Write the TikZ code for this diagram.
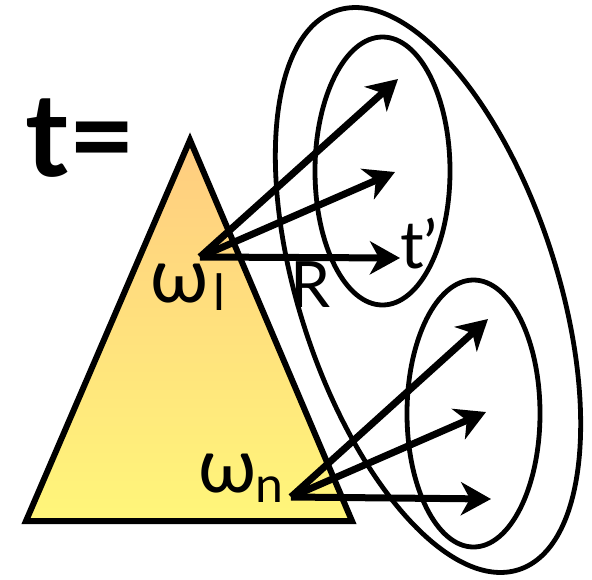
\documentclass[tikz,border=0pt]{standalone}
\usepackage{fontspec}
\setmainfont{Lato}
\usetikzlibrary{arrows.meta}
\definecolor{topc}{HTML}{FFCC80}
\definecolor{botc}{HTML}{FFF67A}
\begin{document}
\begin{tikzpicture}[x=1pt,y=-1pt,
  arr/.style={line width=7pt,-{Stealth[length=30pt,width=33pt,inset=9pt]}},
  ring/.style={line width=4.8pt},
  lbl/.style={inner sep=0pt,anchor=base west}]
\useasboundingbox (0,0) rectangle (592,579);
% triangle
\path[draw=black,line width=6pt,line join=miter,top color=topc,bottom color=botc]
  (190,140) -- (352,521) -- (26,521) -- cycle;
% ellipses
\draw[ring] (428,290) ellipse [x radius=294pt,y radius=129pt,rotate=-72];
\draw[ring] (382.5,171) ellipse [x radius=67.5pt,y radius=134pt];
\draw[ring] (473.5,413.5) ellipse [x radius=66.5pt,y radius=133.5pt];
% arrow origins and tips
\coordinate (wl) at (200,257);
\coordinate (a1) at (398,79);
\coordinate (a2) at (395,172);
\coordinate (a3) at (400,258);
\coordinate (wn) at (291,497);
\coordinate (b1) at (488,319);
\coordinate (b2) at (486,412);
\coordinate (b3) at (491,499);
\draw[arr] (wl) -- (a1);
\draw[arr] (wl) -- (a2);
\draw[arr] (wl) -- (a3);
\draw[arr] (wn) -- (b1);
\draw[arr] (wn) -- (b2);
\draw[arr] (wn) -- (b3);
% labels
\node[lbl,font=\fontsize{116}{116}\selectfont\bfseries] (t) at (25,176) {t=};
\node[lbl,font=\fontsize{76}{76}\selectfont] (om1) at (150,302) {ω};
\node[lbl,font=\fontsize{50}{50}\selectfont] (sub1) at (213,310) {l};
\node[lbl,font=\fontsize{64}{64}\selectfont] (R) at (290,307) {R};
\node[lbl,font=\fontsize{66}{66}\selectfont] (tp) at (400,268) {t’};
\node[lbl,font=\fontsize{76}{76}\selectfont] (om2) at (198,492) {ω};
\node[lbl,font=\fontsize{50}{50}\selectfont] (sub2) at (255,502) {n};
\end{tikzpicture}
\end{document}
